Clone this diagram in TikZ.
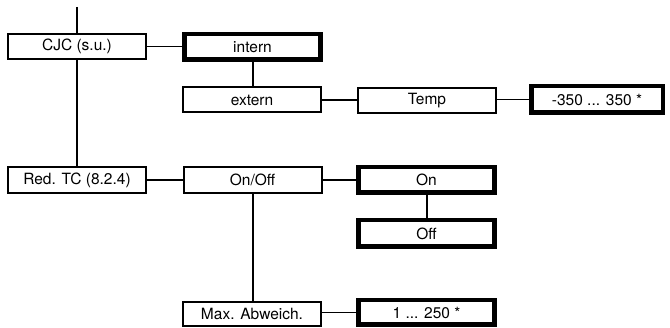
\documentclass[tikz,border=0pt]{standalone}
\usepackage{fontspec}
\setmainfont{TeX Gyre Heros}
\begin{document}
\begin{tikzpicture}[x=1pt,y=-1pt,
  box/.style={draw,rectangle,line width=2pt,inner sep=0pt,
    minimum width=138pt,minimum height=25pt,
    font=\fontsize{15.5}{18}\selectfont},
  selbox/.style={box,line width=4.5pt,minimum width=136pt,minimum height=25.5pt},
  hlink/.style={line width=1.2pt},
  vlink/.style={line width=2pt}]
\useasboundingbox (0,0) rectangle (670,328);

% menu items
\node[box]    (cjc)    at (77,46.5)    {CJC (s.u.)};
\node[selbox] (intern) at (252.5,47)   {intern};
\node[box]    (extern) at (252,100)    {extern};
\node[box]    (temp)   at (427,100.5)  {Temp};
\node[selbox,minimum width=131.5pt,minimum height=26.5pt] (range) at (597,99.5) {-350 ... 350 *};
\node[box,minimum height=26pt] (redtc) at (77,180) {Red. TC (8.2.4)};
\node[box,minimum height=26pt] (onoff) at (252.5,180) {On/Off};
\node[selbox] (on)     at (426.5,180)  {On};
\node[selbox,minimum height=26.5pt] (off) at (426.5,233.5) {Off};
\node[box,minimum height=24pt] (maxab) at (252,314) {Max. Abweich.};
\node[selbox,minimum height=24.5pt] (lim) at (426.5,312.5) {1 ... 250 *};

\coordinate (top) at (77,7);

% connectors
\draw[vlink] (top) -- (cjc.north);
\draw[vlink] (cjc.south) -- (redtc.north);
\draw[hlink] (cjc.east) -- (cjc.east -| intern.west);
\draw[vlink] (intern.south) -- (intern.south |- extern.north);
\draw[hlink] (extern.east) -- (temp.west |- extern.east);
\draw[hlink] (temp.east |- range.west) -- (range.west);
\draw[hlink] (redtc.east) -- (onoff.west);
\draw[hlink] (onoff.east) -- (on.west);
\draw[vlink] (on.south) -- (off.north);
\draw[vlink] (onoff.south) -- (onoff.south |- maxab.north);
\draw[hlink] (maxab.east |- lim.west) -- (lim.west);
\end{tikzpicture}
\end{document}
